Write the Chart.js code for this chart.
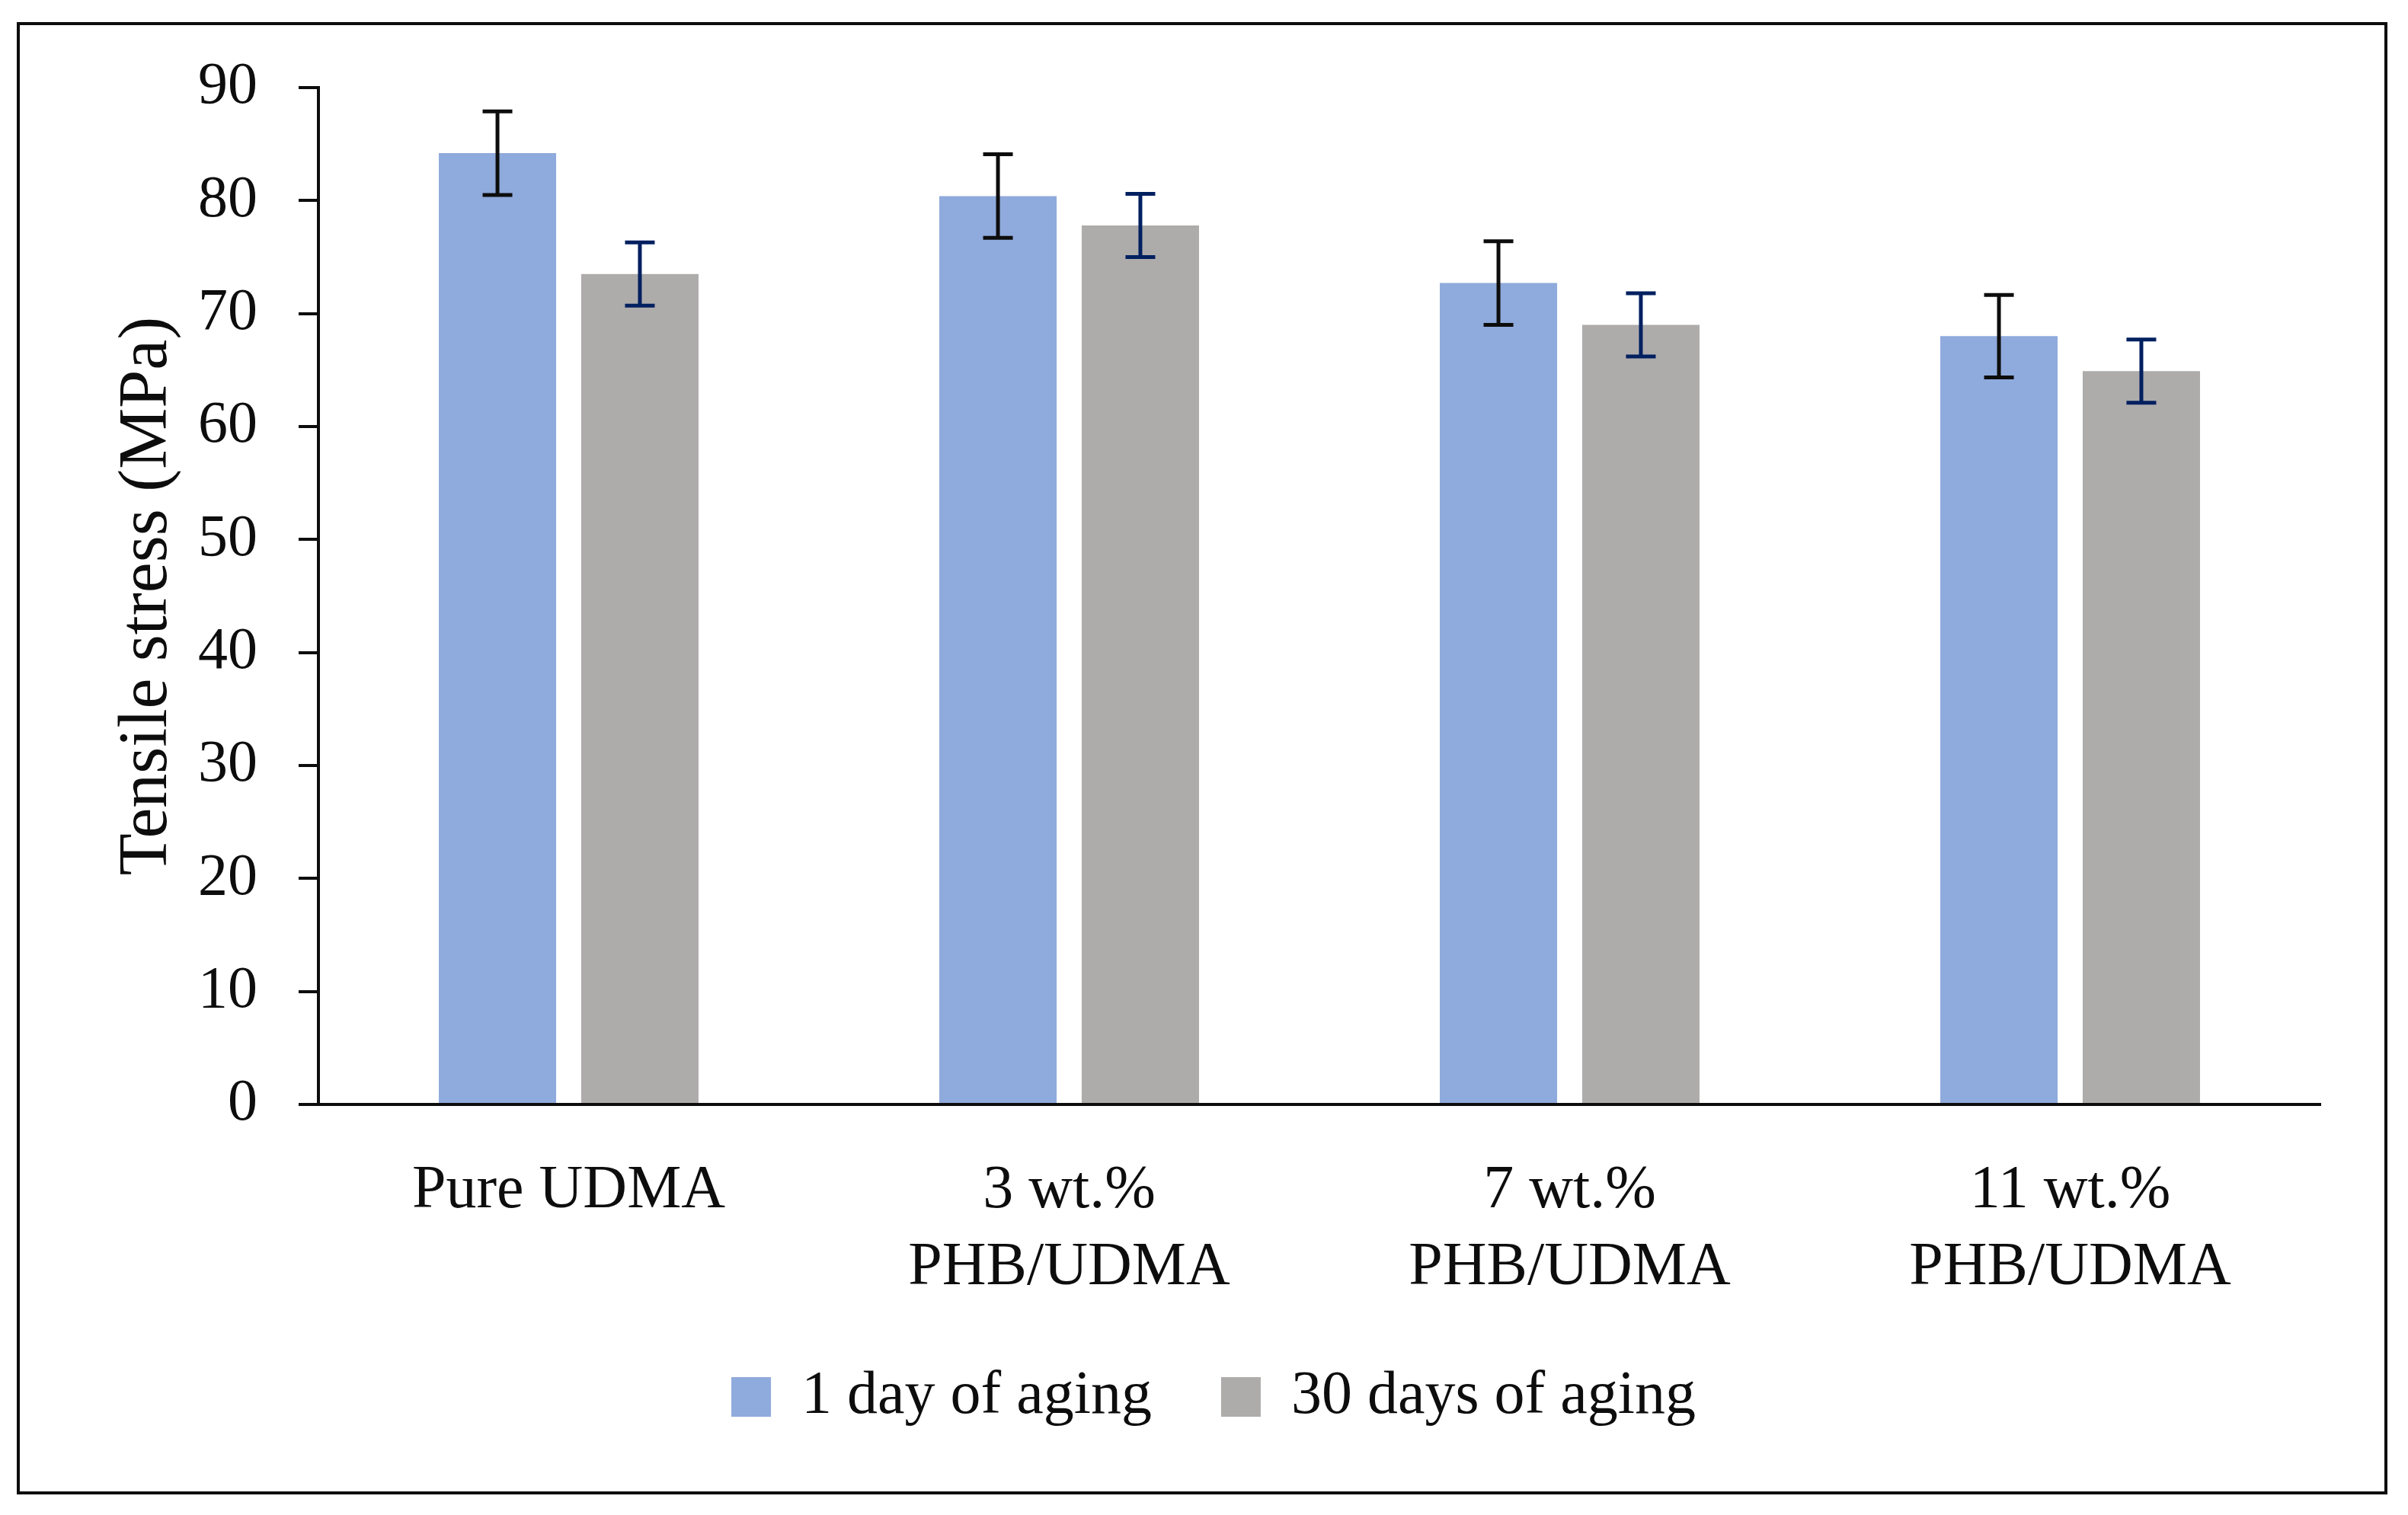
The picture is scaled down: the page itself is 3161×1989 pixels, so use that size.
<!DOCTYPE html>
<html>
<head>
<meta charset="utf-8">
<script src="https://cdn.jsdelivr.net/npm/chart.js@4.4.0/dist/chart.umd.min.js"></script>
<style>
html,body{margin:0;padding:0;background:#fff;overflow:hidden}
canvas{display:block}
</style>
</head>
<body>
<canvas id="c" width="3161" height="1989" style="width:3161px;height:1989px"></canvas>
<script>
// ---- data ----
const categories = ['Pure UDMA', ['3 wt.%', 'PHB/UDMA'], ['7 wt.%', 'PHB/UDMA'], ['11 wt.%', 'PHB/UDMA']];
const seriesNames = ['1 day of aging', '30 days of aging'];
const day1Values = [84.2, 80.4, 72.7, 68.0];
const day1Errors = [3.7, 3.7, 3.7, 3.65];
const day30Values = [73.5, 77.8, 69.0, 64.9];
const day30Errors = [2.8, 2.8, 2.8, 2.8];
const yMin = 0, yMax = 90, yStep = 10;
const axisTitle = 'Tensile stress (MPa)';

const FONT = "'Liberation Serif', 'Times New Roman', serif";
const INK = '#0d0d0d';

const errorBarPlugin = {
  id: 'errorBars',
  afterDatasetsDraw(chart) {
    const ctx = chart.ctx;
    const ys = chart.scales.y;
    chart.data.datasets.forEach((ds, i) => {
      const meta = chart.getDatasetMeta(i);
      meta.data.forEach((bar, j) => {
        const v = ds.data[j], e = ds.errors[j];
        const yt = ys.getPixelForValue(v + e);
        const yb = ys.getPixelForValue(v - e);
        const hw = 19.5;
        ctx.save();
        ctx.strokeStyle = ds.errorColor;
        ctx.lineWidth = 5;
        ctx.lineCap = 'butt';
        ctx.beginPath();
        ctx.moveTo(bar.x, yt); ctx.lineTo(bar.x, yb);
        ctx.moveTo(bar.x - hw, yt); ctx.lineTo(bar.x + hw, yt);
        ctx.moveTo(bar.x - hw, yb); ctx.lineTo(bar.x + hw, yb);
        ctx.stroke();
        ctx.restore();
      });
    });
  }
};

const framePlugin = {
  id: 'frame',
  beforeDraw(chart) {
    const ctx = chart.ctx;
    ctx.save();
    ctx.fillStyle = '#ffffff';
    ctx.fillRect(0, 0, chart.width, chart.height);
    ctx.restore();
  },
  afterDraw(chart) {
    const ctx = chart.ctx;
    ctx.save();
    ctx.strokeStyle = INK;
    ctx.lineWidth = 4;
    ctx.strokeRect(24, 31, 3108, 1929);
    ctx.restore();
  }
};

new Chart(document.getElementById('c'), {
  type: 'bar',
  data: {
    labels: categories,
    datasets: [
      {
        label: seriesNames[0],
        data: day1Values,
        errors: day1Errors,
        errorColor: '#0d0d0d',
        backgroundColor: '#8FAADC',
        borderWidth: 0,
        categoryPercentage: 0.569,
        barPercentage: 0.824
      },
      {
        label: seriesNames[1],
        data: day30Values,
        errors: day30Errors,
        errorColor: '#002060',
        backgroundColor: '#AEABAB',
        borderWidth: 0,
        categoryPercentage: 0.569,
        barPercentage: 0.824
      }
    ]
  },
  options: {
    responsive: false,
    devicePixelRatio: 1,
    animation: false,
    layout: { padding: { left: 140, right: 115, top: 115, bottom: 105 } },
    plugins: {
      tooltip: { enabled: false },
      legend: {
        position: 'bottom',
        align: 'center',
        labels: {
          boxWidth: 52,
          boxHeight: 52,
          padding: 91,
          color: INK,
          font: { family: FONT, size: 80 }
        }
      }
    },
    scales: {
      x: {
        z: 1,
        grid: { display: false },
        border: { display: true, color: INK, width: 4 },
        ticks: {
          color: INK,
          padding: 55,
          maxRotation: 0,
          autoSkip: false,
          font: { family: FONT, size: 80, lineHeight: 1.2625 }
        },
        afterFit(scale) { scale.height = 253; }
      },
      y: {
        z: 1,
        min: yMin,
        max: yMax,
        grid: {
          display: true,
          drawOnChartArea: false,
          drawTicks: true,
          tickLength: 26,
          color: INK,
          lineWidth: 4
        },
        border: { display: true, color: INK, width: 4 },
        ticks: {
          stepSize: yStep,
          color: INK,
          padding: 54,
          font: { family: FONT, size: 78 }
        },
        title: {
          display: true,
          text: axisTitle,
          color: INK,
          padding: 0,
          font: { family: FONT, size: 90, lineHeight: 1.2 }
        },
        afterFit(scale) { scale.width = 278; }
      }
    }
  },
  plugins: [errorBarPlugin, framePlugin]
});
</script>
</body>
</html>
